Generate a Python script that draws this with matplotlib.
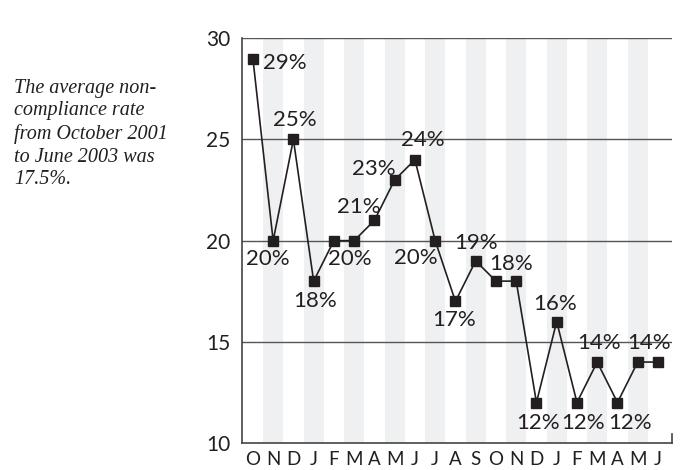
import matplotlib
matplotlib.use('Agg')
import matplotlib.pyplot as plt

# Monthly non-compliance rate, Oct 2001 - Jun 2003
months = ['O', 'N', 'D', 'J', 'F', 'M', 'A', 'M', 'J', 'J', 'A',
          'S', 'O', 'N', 'D', 'J', 'F', 'M', 'A', 'M', 'J']
rates = [29, 20, 25, 18, 20, 20, 21, 23, 24, 20, 17,
         19, 18, 18, 12, 16, 12, 14, 12, 14, 14]
y_ticks = [10, 15, 20, 25, 30]
note = ('The average non-\ncompliance rate\nfrom October 2001\n'
        'to June 2003 was\n17.5%.')

# which points carry a label, and where the label sits (pixel offsets)
label_pos = {
    0: (10, -4, 'left'), 1: (-5, -18, 'center'), 2: (1, 19, 'center'),
    3: (1, -20, 'center'), 5: (-4, -18, 'center'), 6: (-16, 13, 'center'),
    7: (-21, 11, 'center'), 8: (8, 20, 'center'), 9: (-19, -17, 'center'),
    10: (-1, -19, 'center'), 11: (0, 18, 'center'), 13: (-5, 17, 'center'),
    14: (2, -20, 'center'), 15: (-2, 18, 'center'), 16: (6, -20, 'center'),
    17: (2, 19, 'center'), 18: (13, -20, 'center'), 20: (-9, 19, 'center'),
}

ink = '#231f20'
font = 'Lato'

fig = plt.figure(figsize=(6.81, 4.70), dpi=100)
ax = fig.add_axes([0.355, 0.0575, 0.632, 0.861])

x = list(range(len(months)))

# alternating month bands
for i in x:
    if i % 2 == 1:
        ax.axvspan(i - 0.5, i + 0.5, color='#eff0f2', lw=0, zorder=0)

for t in y_ticks[1:]:
    ax.axhline(t, color='#555555', lw=1.0, zorder=1)

ax.plot(x, rates, color=ink, lw=1.2, marker='s', markersize=7.5,
        markerfacecolor=ink, markeredgecolor=ink, zorder=3)

for i, (dx, dy, ha) in label_pos.items():
    ax.annotate(f'{rates[i]}%', (i, rates[i]), xytext=(dx, dy),
                textcoords='offset pixels', ha=ha, va='center',
                fontsize=16, color=ink, family=font, zorder=4)

ax.set_xlim(-0.55, 20.7)
ax.set_ylim(10, 30)
ax.set_yticks(y_ticks)
ax.set_yticklabels([str(t) for t in y_ticks], fontsize=15, color=ink,
                   family=font)
ax.set_xticks(x)
ax.set_xticklabels(months, fontsize=13.5, color=ink, family=font)
ax.tick_params(axis='y', length=0, pad=8)
ax.tick_params(axis='x', length=0, pad=6)

for side in ['top', 'right']:
    ax.spines[side].set_visible(False)
ax.spines['left'].set_color('#444444')
ax.spines['bottom'].set_color('#444444')
ax.spines['left'].set_linewidth(1.2)
ax.spines['bottom'].set_linewidth(1.2)
# small end tick at the right of the base line
ax.plot([1, 1], [0, 0.022], transform=ax.transAxes, color='#444444',
        lw=1.2, clip_on=False)

fig.text(0.021, 0.832, note, ha='left', va='top', fontsize=14.5,
         style='italic', family='Liberation Serif', color=ink, linespacing=1.25)

fig.savefig('out.png', dpi=100)
